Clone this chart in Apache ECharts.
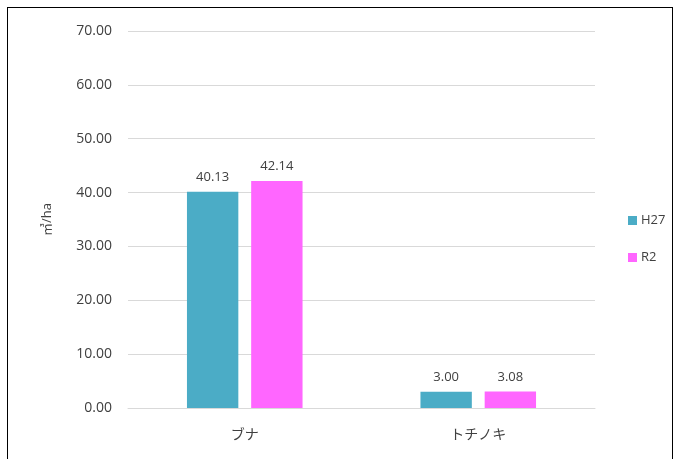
<!DOCTYPE html>
<html><head><meta charset="utf-8">
<script src="https://cdn.jsdelivr.net/npm/echarts@6/dist/echarts.min.js"></script>
<style>html,body{margin:0;padding:0;background:#fff;}#c{width:679px;height:459px;}
#frame{position:absolute;left:7px;top:7px;width:666px;height:460px;border:1px solid #000;box-sizing:border-box;pointer-events:none;}</style>
</head><body><div id="c"></div><div id="frame"></div>
<script>
const categories = ['ブナ', 'トチノキ'];
const seriesNames = ['H27', 'R2'];
const h27 = [40.13, 3.00];
const r2 = [42.14, 3.08];
const colors = ['#4BACC6', '#FF66FF'];
const font = '"Open Sans", "Noto Sans CJK JP", sans-serif';
const cjk = '"Noto Sans CJK JP", sans-serif';
const chart = echarts.init(document.getElementById('c'));
chart.setOption({
  animation: false,
  grid: {left: 128, right: 84, top: 31, bottom: 51, containLabel: false},
  legend: {
    orient: 'vertical', left: 623, top: 209, itemGap: 24,
    itemWidth: 9, itemHeight: 9, icon: 'rect',
    textStyle: {color: '#404040', fontSize: 13, fontFamily: font, padding: [0, 0, 0, -1]},
    data: seriesNames
  },
  xAxis: {
    type: 'category', data: categories,
    axisLine: {lineStyle: {color: '#d9d9d9'}},
    axisTick: {show: false},
    axisLabel: {color: '#404040', fontSize: 14, fontFamily: cjk, margin: 19}
  },
  yAxis: {
    type: 'value', min: 0, max: 70, interval: 10,
    name: '㎥/ha', nameLocation: 'middle', nameGap: 74, nameRotate: 90,
    nameTextStyle: {color: '#404040', fontSize: 13, fontFamily: font},
    axisLine: {show: false}, axisTick: {show: false},
    splitLine: {lineStyle: {color: '#d9d9d9'}},
    axisLabel: {color: '#404040', fontSize: 14, fontFamily: font, margin: 16,
      formatter: v => v.toFixed(2)}
  },
  series: [
    {name: seriesNames[0], type: 'bar', data: h27, barWidth: '22%', barGap: '25%',
     itemStyle: {color: colors[0]},
     label: {show: true, position: 'top', distance: 8, color: '#404040', fontSize: 13, fontFamily: font,
       formatter: p => p.value.toFixed(2)}},
    {name: seriesNames[1], type: 'bar', data: r2, barWidth: '22%', barGap: '25%',
     itemStyle: {color: colors[1]},
     label: {show: true, position: 'top', distance: 8, color: '#404040', fontSize: 13, fontFamily: font,
       formatter: p => p.value.toFixed(2)}}
  ]
});
</script></body></html>
